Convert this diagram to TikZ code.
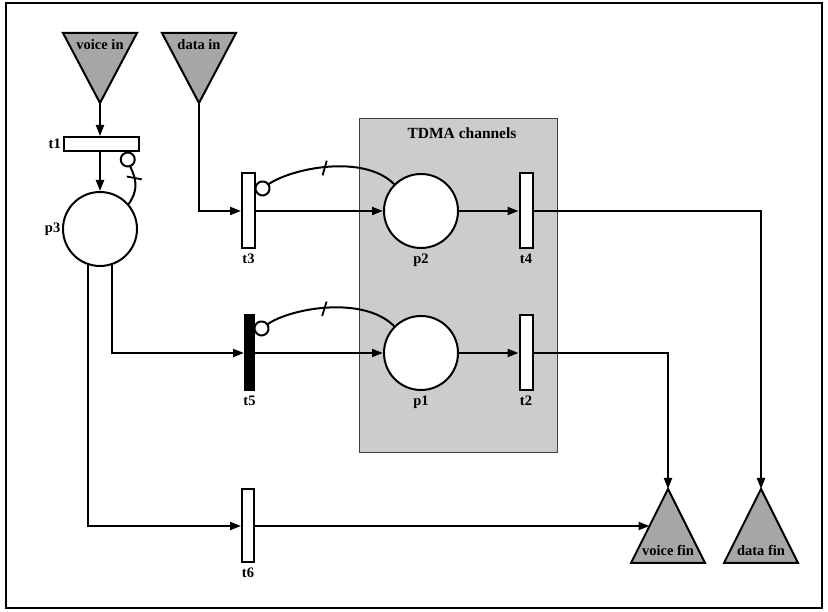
\documentclass[tikz,border=0pt]{standalone}
\usepackage{fontspec}
\setmainfont{Liberation Serif}
\usetikzlibrary{arrows.meta,decorations.markings,calc}
\begin{document}
\begin{tikzpicture}[x=1pt,y=1pt,
  ln/.style={line width=2pt},
  arr/.style={ln,-{Triangle[length=11pt,width=8pt]}},
  inh/.style={ln,-{Circle[open,length=16pt,width=16pt]},
    postaction={decorate},
    decoration={markings, mark=at position 0.5 with {\draw[-,line width=1.8pt] (-3pt,-7pt)--(3pt,7pt);}}},
  trans/.style={draw,ln,fill=white,minimum width=13pt,minimum height=75pt,inner sep=0pt},
  place/.style={draw,ln,circle,fill=white,minimum size=74pt,inner sep=0pt},
  lbl/.style={font=\fontsize{14.5}{17}\selectfont\bfseries,inner sep=1.5pt},
  tri/.style={draw,ln,fill=black!35,line join=miter}]
\useasboundingbox (0,0) rectangle (828,612);
\draw[line width=2.6pt] (6,4) rectangle (822,609);

% TDMA box
\node[draw=black!75,line width=1.3pt,fill=black!20,minimum width=198pt,minimum height=334pt,inner sep=0pt,anchor=north west] (tdma) at (359,494) {};
\node[lbl,font=\fontsize{15.5}{18}\selectfont\bfseries] (tdmalbl) at (462,479) {TDMA channels};

% sources and sinks
\coordinate (vin) at (100,509);
\filldraw[tri] (vin) -- (63,579) -- (137,579) -- cycle;
\node[lbl] (vinl) at (100,567) {voice in};
\coordinate (din) at (199,509);
\filldraw[tri] (din) -- (162,579) -- (236,579) -- cycle;
\node[lbl] (dinl) at (199,567) {data in};
\coordinate (vfin) at (668,123);
\filldraw[tri] (vfin) -- (631,49) -- (705,49) -- cycle;
\node[lbl] (vfinl) at (668,62) {voice fin};
\coordinate (dfin) at (761,123);
\filldraw[tri] (dfin) -- (724,49) -- (798,49) -- cycle;
\node[lbl] (dfinl) at (761,62) {data fin};
\coordinate (vfinside) at ($(vfin)!0.5!(631,49)$);

% places
\node[place] (p3) at (100,383) {};
\node[place] (p2) at (421,401) {};
\node[place] (p1) at (421,259) {};
\node[lbl,anchor=east] (p3l) at (p3.west) {p3};
\node[lbl,anchor=north] (p2l) at ([yshift=-3pt]p2.south) {p2};
\node[lbl,anchor=north] (p1l) at ([yshift=-3pt]p1.south) {p1};

% transitions
\node[trans,minimum width=75pt,minimum height=14pt] (t1) at (101,468) {};
\node[trans] (t3) at (248.5,401) {};
\node[trans] (t4) at (526,401) {};
\node[trans,fill=black,minimum width=9pt] (t5) at (249.5,259) {};
\node[trans] (t2) at (526,259) {};
\node[trans,minimum width=12pt,minimum height=73pt] (t6) at (248,86) {};
\node[lbl,anchor=east] (t1l) at (t1.west) {t1};
\node[lbl,anchor=north] (t3l) at ([yshift=-3pt]t3.south) {t3};
\node[lbl,anchor=north] (t4l) at ([yshift=-3pt]t4.south) {t4};
\node[lbl,anchor=north] (t5l) at ([yshift=-3pt]t5.south) {t5};
\node[lbl,anchor=north] (t2l) at ([yshift=-3pt]t2.south) {t2};
\node[lbl,anchor=north] (t6l) at ([yshift=-3pt]t6.south) {t6};

% arcs
\draw[arr] (vin) -- (vin |- t1.north);
\draw[arr] (t1.south -| p3.north) -- (p3.north);
\draw[inh] (p3.41) to[out=55,in=-70,looseness=1.1] ([xshift=24pt]t1.south);
\draw[arr] (din) |- (t3.west);
\draw[arr] (t3.east) -- (p2.west);
\draw[inh] (p2.135) to[out=135,in=35,looseness=0.8] ([yshift=18pt]t3.east);
\draw[arr] (p2.east) -- (t4.west);
\draw[arr] (t4.east) -| (dfin);
\draw[arr] (p3.-71) |- (t5.west);
\draw[arr] (t5.east) -- (p1.west);
\draw[inh] (p1.135) to[out=135,in=35,looseness=0.8] ([yshift=20pt]t5.east);
\draw[arr] (p1.east) -- (t2.west);
\draw[arr] (t2.east) -| (vfin);
\draw[arr] (p3.-109) |- (t6.west);
\draw[arr] (t6.east) -- (t6.east -| vfinside);
\end{tikzpicture}
\end{document}
